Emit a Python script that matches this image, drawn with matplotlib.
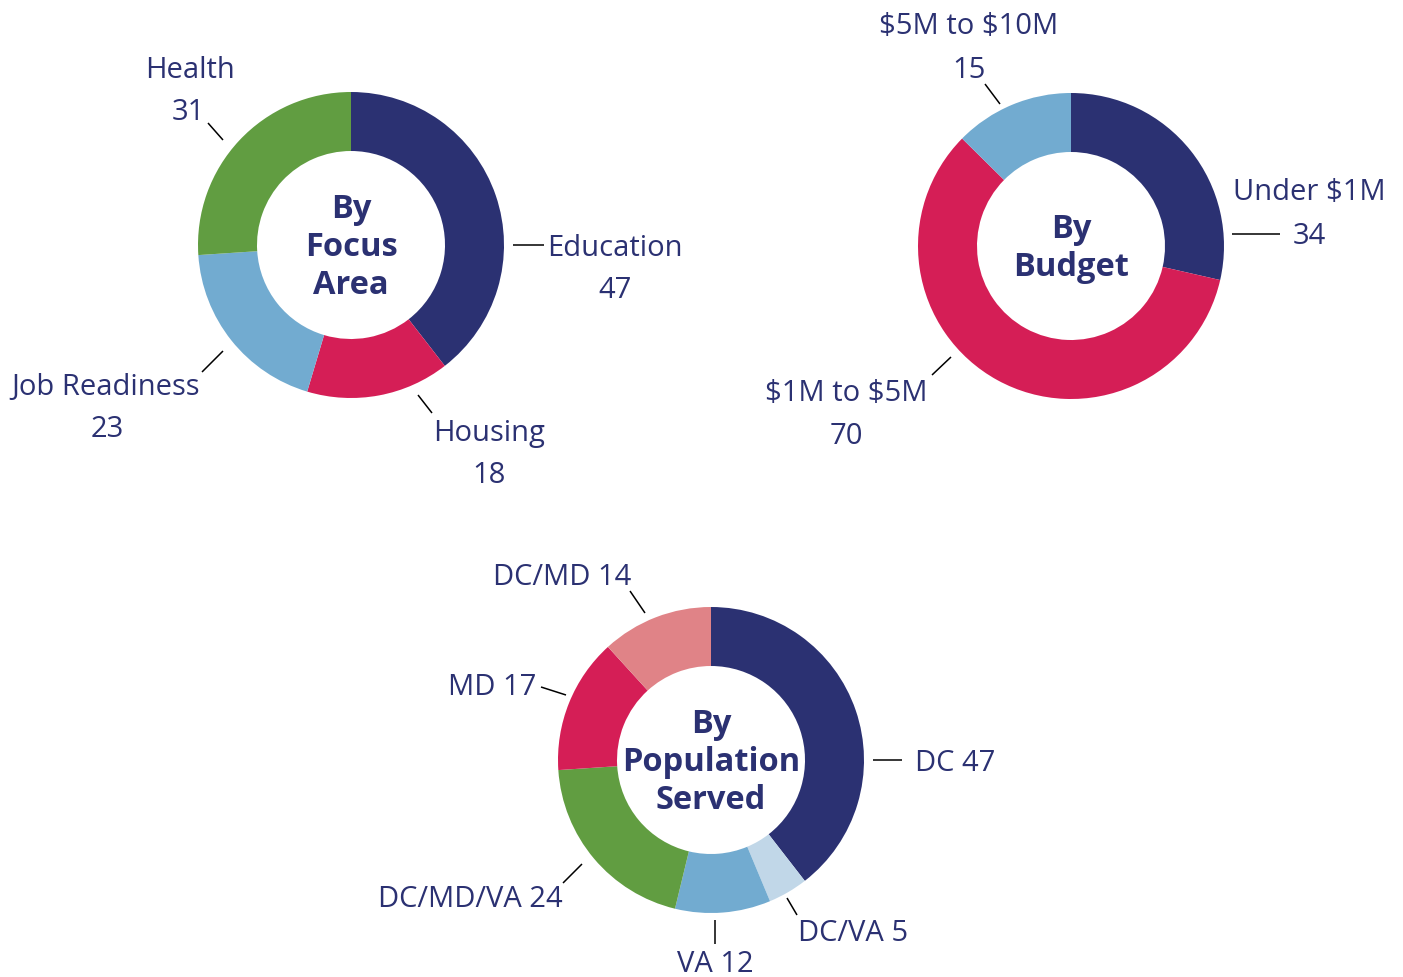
import matplotlib
matplotlib.use("Agg")
import matplotlib.pyplot as plt

plt.rcParams['font.family'] = ['Open Sans', 'DejaVu Sans']
plt.rcParams['text.parse_math'] = False

# data
focus_labels = ["Education", "Housing", "Job Readiness", "Health"]
focus_values = [47, 18, 23, 31]

budget_labels = ["Under $1M", "$1M to $5M", "$5M to $10M"]
budget_values = [34, 70, 15]

pop_labels = ["DC", "DC/VA", "VA", "DC/MD/VA", "MD", "DC/MD"]
pop_values = [47, 5, 12, 24, 17, 14]

# colours
NAVY = "#2b3172"
RED = "#d51e56"
LBLUE = "#72abd0"
GREEN = "#619d41"
PALE = "#c1d7e8"
PINK = "#e08387"
TEXT = "#2b3172"

W, H = 1403, 977
R = 153
RING = 59

fig = plt.figure(figsize=(W / 100, H / 100), dpi=100)
ax = fig.add_axes([0, 0, 1, 1])


def Y(y):
    # layout was measured from the top of the picture
    return H - y


def donut(center, values, colors, title):
    cx, cy = center
    ax.pie(values, colors=colors, startangle=90, counterclock=False,
           center=(cx, Y(cy)), radius=R,
           wedgeprops=dict(width=RING, linewidth=0))
    lines = title.split("\n")
    n = len(lines)
    for i, t in enumerate(lines):
        yb = cy + (i - (n - 1) / 2) * 38 + 11
        ax.text(cx, Y(yb), t, ha="center", va="baseline", fontsize=23.5,
                fontweight="bold", color=TEXT)


def label(lead, pos, text, ha="center"):
    (x0, y0), (x1, y1) = lead
    ax.plot([x0, x1], [Y(y0), Y(y1)], color="black", lw=1.1,
            solid_capstyle="butt")
    for (x, yb), t in zip(pos, text):
        ax.text(x, Y(yb), t, ha=ha, va="baseline", fontsize=21, color=TEXT)


# By Focus Area
donut((351, 245), focus_values, [NAVY, RED, LBLUE, GREEN], "By\nFocus\nArea")
focus_leads = [((513, 245), (544, 245)), ((418, 395), (432, 413)),
               ((223, 351), (202, 372)), ((223, 140), (208, 123))]
focus_pos = [[(615, 256), (615, 298)], [(489, 441), (489, 483)],
             [(106, 395), (107, 437)], [(190, 78), (188, 120)]]
for lab, v, ld, p in zip(focus_labels, focus_values, focus_leads, focus_pos):
    label(ld, p, [lab, str(v)])

# By Budget
donut((1071, 246), budget_values, [NAVY, RED, LBLUE], "By\nBudget")
budget_leads = [((1232, 234), (1280, 234)), ((951, 357), (932, 375)),
                ((1000, 104), (985, 84))]
budget_pos = [[(1309, 200), (1309, 244)], [(846, 401), (846, 444)],
              [(969, 34), (969, 78)]]
for lab, v, ld, p in zip(budget_labels, budget_values, budget_leads, budget_pos):
    label(ld, p, [lab, str(v)])

# By Population Served
donut((711, 760), pop_values, [NAVY, PALE, LBLUE, GREEN, RED, PINK],
      "By\nPopulation\nServed")
pop_leads = [((873, 760), (902, 760)), ((787, 898), (797, 915)),
             ((715, 920), (715, 944)), ((582, 864), (563, 883)),
             ((566, 695), (541, 687)), ((645, 613), (630, 591))]
pop_pos = [(915, 771), (798, 941), (715, 972), (470, 907), (536, 695), (562, 585)]
pop_ha = ["left", "left", "center", "center", "right", "center"]
for lab, v, ld, p, h in zip(pop_labels, pop_values, pop_leads, pop_pos, pop_ha):
    label(ld, [p], [f"{lab} {v}"], ha=h)

ax.set_xlim(0, W)
ax.set_ylim(0, H)
ax.set_aspect("equal")
ax.axis("off")

fig.savefig("out.png", dpi=100, facecolor="white")
